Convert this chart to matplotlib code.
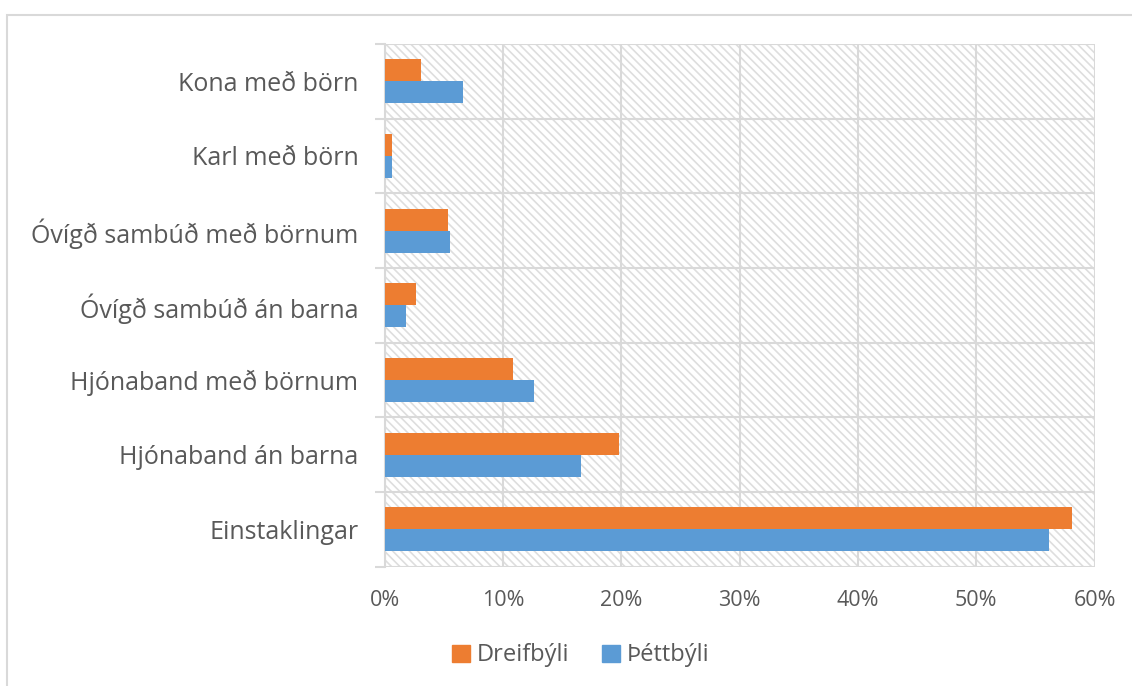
import matplotlib
matplotlib.use("Agg")
import matplotlib.pyplot as plt
import matplotlib.patches as mpatches
from matplotlib.ticker import FuncFormatter
import numpy as np

# ─── Dane ────────────────────────────────────────────────
categories = [
    "Einstaklingar",
    "Hjónaband án barna",
    "Hjónaband með börnum",
    "Óvígð sambúð án barna",
    "Óvígð sambúð með börnum",
    "Karl með börn",
    "Kona með börn",
]
dreifbyli = [58.1, 19.8, 10.8, 2.6, 5.3, 0.6, 3.05]
thettbyli = [56.1, 16.6, 12.6, 1.8, 5.5, 0.6, 6.6]
xticks = [0, 10, 20, 30, 40, 50, 60]

ORANGE = "#ED7D31"
BLUE = "#5B9BD5"
GRID = "#d9d9d9"
TEXT = "#595959"

plt.rcParams["font.family"] = ["Open Sans", "DejaVu Sans"]
plt.rcParams["hatch.linewidth"] = 1.2

fig = plt.figure(figsize=(11.32, 6.86), dpi=100)
ax = fig.add_axes([0.340, 0.174, 0.627, 0.762])

# ramka wykresu (widoczna tylko z lewej i u góry)
fig.patches.append(mpatches.Rectangle((7 / 1132, -0.1), 1.2, 1 - 15 / 686 + 0.1,
                                      transform=fig.transFigure, fill=False,
                                      edgecolor=GRID, linewidth=1.5, zorder=0))

# tło z kreskowaniem
ax.add_patch(mpatches.Rectangle((0, 0), 1, 1, transform=ax.transAxes,
                                facecolor="white", edgecolor="#dedede",
                                linewidth=0, hatch="\\\\\\\\", zorder=0))

y = np.arange(len(categories))
h = 0.295
ax.barh(y + h / 2, dreifbyli, height=h, color=ORANGE, zorder=3, label="Dreifbýli")
ax.barh(y - h / 2, thettbyli, height=h, color=BLUE, zorder=3, label="Þéttbýli")

ax.set_xlim(0, 60)
ax.set_ylim(-0.5, len(categories) - 0.5)
ax.set_xticks(xticks)
ax.xaxis.set_major_formatter(FuncFormatter(lambda v, _: f"{v:.0f}%"))
ax.set_yticks(y)
ax.set_yticklabels(categories)
ax.set_yticks(np.arange(-0.5, len(categories), 1), minor=True)

ax.grid(axis="x", color=GRID, linewidth=1.5, zorder=1)
ax.grid(axis="y", which="minor", color=GRID, linewidth=1.5, zorder=1)
ax.tick_params(axis="x", length=0, labelsize=15.5, labelcolor=TEXT, pad=17)
ax.tick_params(axis="y", which="major", length=0, labelsize=18, labelcolor=TEXT, pad=19)
ax.tick_params(axis="y", which="minor", length=7, color=GRID, width=1.5)

for side in ["top", "right", "bottom"]:
    ax.spines[side].set_visible(False)
ax.spines["left"].set_color(GRID)
ax.spines["left"].set_linewidth(1.5)

handles = [mpatches.Patch(color=ORANGE, label="Dreifbýli"),
           mpatches.Patch(color=BLUE, label="Þéttbýli")]
leg = fig.legend(handles=handles, loc="center", bbox_to_anchor=(0.513, 0.0445),
                 ncol=2, frameon=False, fontsize=17, handlelength=0.75,
                 handleheight=0.75, handletextpad=0.3, columnspacing=1.4)
for t in leg.get_texts():
    t.set_color(TEXT)

fig.savefig("out.png", dpi=100)
